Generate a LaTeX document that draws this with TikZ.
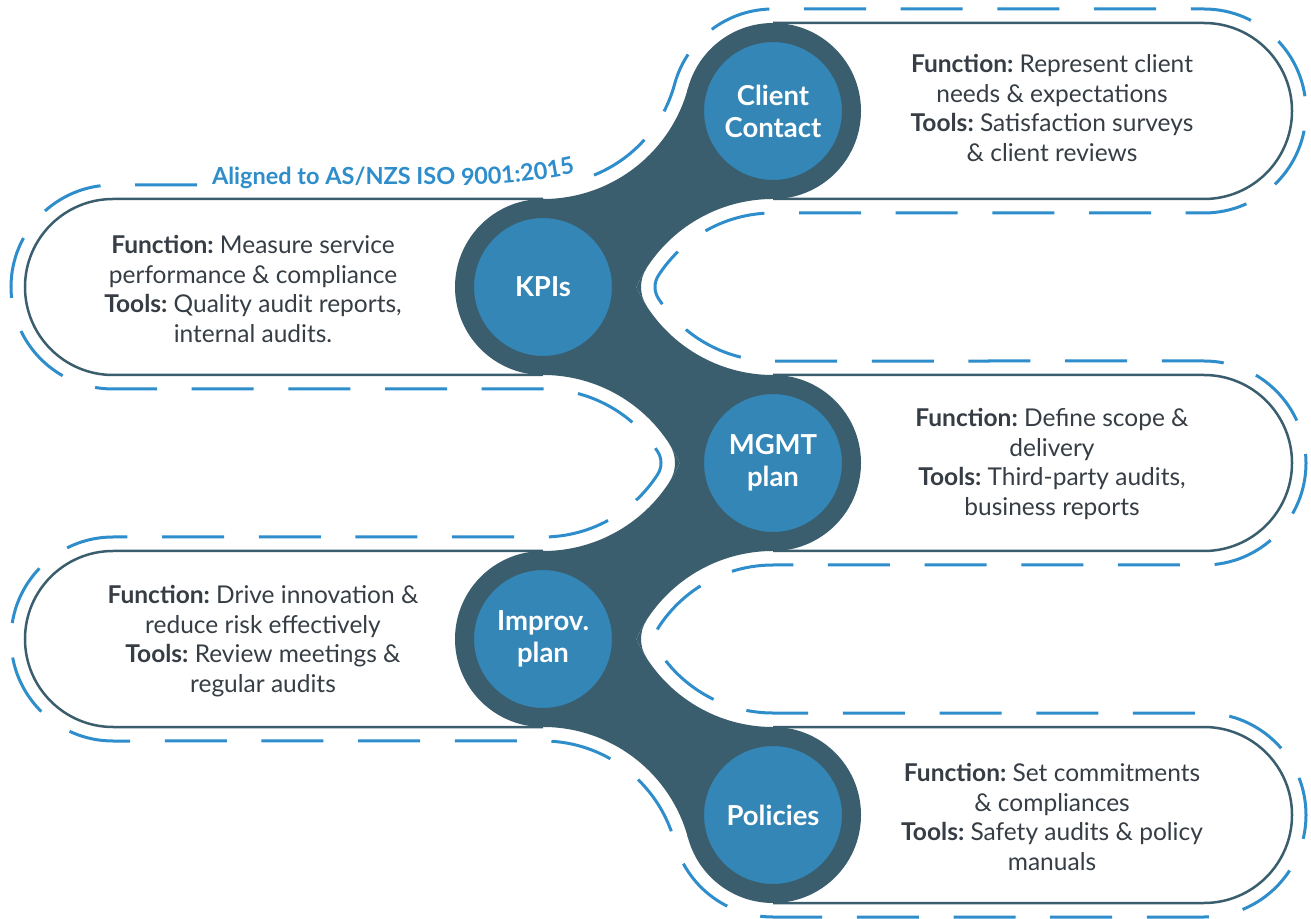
\documentclass[tikz,border=0pt]{standalone}
\usepackage{fontspec}
\setmainfont{Lato}
\frenchspacing
\usetikzlibrary{decorations.text}
\definecolor{slate}{HTML}{3A5E6E}
\definecolor{ringblue}{HTML}{3386B6}
\definecolor{dashblue}{HTML}{2E8DCB}
\definecolor{ink}{HTML}{363D44}
\begin{document}
\begin{tikzpicture}[x=1pt,y=1pt,
    pill/.style={draw=slate,line width=2.5pt},
    hub/.style={circle,draw=slate,line width=19pt,fill=ringblue,minimum size=157pt,inner sep=0pt,
      text=white,align=center,font=\bfseries\fontsize{27.5}{32}\selectfont},
    info/.style={align=center,text=ink,font=\fontsize{24.5}{29.5}\selectfont},
    track/.style={draw=dashblue,line width=3pt,dash pattern=on 62pt off 34.67pt}]
  \fill[white] (0,0) rectangle (1311,918);

  % pill outlines, right and left rows
  \foreach \y in {807,455,103}
    \draw[pill] (773,\y+88) -- (1204,\y+88) arc[start angle=90,end angle=-90,radius=88] -- (773,\y-88);
  \foreach \y in {631,279}
    \draw[pill] (543,\y+88) -- (113,\y+88) arc[start angle=90,end angle=270,radius=88] -- (543,\y-88);

  % necks between the hubs
  \foreach \m in {719,367}
    \fill[slate] (688.06,\m+111) arc[start angle=-15.15,end angle=-90,radius=150.28]
      -- (627.94,\m-111) arc[start angle=164.85,end angle=90,radius=150.28] -- cycle;
  \foreach \m in {543,191}
    \fill[slate] (688.06,\m-111) arc[start angle=15.15,end angle=90,radius=150.28]
      -- (627.94,\m+111) arc[start angle=195.15,end angle=270,radius=150.28] -- cycle;
  % rounded noses of the empty bays
  \foreach \y in {631,279}
    \fill[slate] (646.55,\y+18.91) arc[start angle=147.30,end angle=155.52,radius=150.28]
      arc[start angle=204.48,end angle=212.70,radius=150.28]
      arc[start angle=212.70,end angle=147.30,radius=35] -- cycle;
  \fill[slate] (669.45,473.91) arc[start angle=32.70,end angle=24.48,radius=150.28]
    arc[start angle=-24.48,end angle=-32.70,radius=150.28]
    arc[start angle=-32.70,end angle=32.70,radius=35] -- cycle;

  % hubs
  \node[hub] (client) at (773,807) {Client\\Contact};
  \node[hub] (kpis) at (543,631) {KPIs};
  \node[hub] (mgmt) at (773,455) {MGMT\\plan};
  \node[hub] (improv) at (543,279) {Improv.\\plan};
  \node[hub] (policies) at (773,103) {Policies};

  % row texts
  \node[info] (clienttxt) at (1052,810) {\textbf{Function:} Represent client\\needs \& expectations\\\textbf{Tools:} Satisfaction surveys\\\& client reviews};
  \node[info] (kpistxt) at (253,629) {\textbf{Function:} Measure service\\performance \& compliance\\\textbf{Tools:} Quality audit reports,\\internal audits.};
  \node[info] (mgmttxt) at (1052,454) {\textbf{Function:} Define scope \&\\delivery\\\textbf{Tools:} Third-party audits,\\business reports};
  \node[info] (improvtxt) at (263,277) {\textbf{Function:} Drive innovation \&\\reduce risk effectively\\\textbf{Tools:} Review meetings \&\\regular audits};
  \node[info] (policiestxt) at (1052,101) {\textbf{Function:} Set commitments\\\& compliances\\\textbf{Tools:} Safety audits \& policy\\manuals};

  % dashed track round the whole snake
  \draw[track] (543,869.28) ++(292:136.28)
    arc[start angle=292,end angle=344.85,radius=136.28]
    arc[start angle=164.85,end angle=90,radius=102]
    -- (1204,909) arc[start angle=90,end angle=-90,radius=102]
    -- (773,705) arc[start angle=90,end angle=147.30,radius=136.28]
    arc[start angle=147.30,end angle=212.70,radius=21]
    arc[start angle=212.70,end angle=270,radius=136.28]
    -- (1204,557) arc[start angle=90,end angle=-90,radius=102]
    -- (773,353) arc[start angle=90,end angle=147.30,radius=136.28]
    arc[start angle=147.30,end angle=212.70,radius=21]
    arc[start angle=212.70,end angle=270,radius=136.28]
    -- (1204,205) arc[start angle=90,end angle=-90,radius=102]
    -- (773,1) arc[start angle=270,end angle=195.15,radius=102]
    arc[start angle=15.15,end angle=90,radius=136.28]
    -- (113,177) arc[start angle=270,end angle=90,radius=102]
    -- (543,381) arc[start angle=270,end angle=327.30,radius=136.28]
    arc[start angle=-32.70,end angle=32.70,radius=21]
    arc[start angle=32.70,end angle=90,radius=136.28]
    -- (113,529) arc[start angle=270,end angle=90,radius=102]
    -- (197,733);

  % standard label set on the track
  \path[decorate,decoration={text along path,text align=left,
      text={|\bfseries\fontsize{23.5}{23.5}\selectfont\color{dashblue}|Aligned to AS/NZS ISO 9001:2015}}]
    (212,733) -- (465,733) arc[start angle=270,end angle=288,radius=520];
\end{tikzpicture}
\end{document}
